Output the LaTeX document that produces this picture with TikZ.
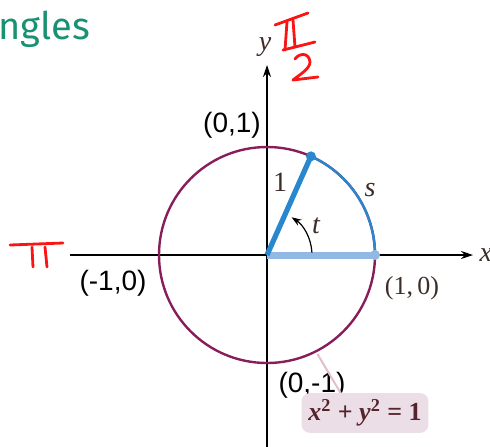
\documentclass[tikz,border=0pt]{standalone}
\usepackage{fontspec}
\setmainfont{Liberation Serif}
\setsansfont{Liberation Sans}
\newfontfamily\headfont{Fira Sans}
\usetikzlibrary{arrows.meta}

\definecolor{circlepurple}{RGB}{135,30,90}
\definecolor{arcblue}{RGB}{40,135,205}
\definecolor{segblue}{RGB}{145,185,228}
\definecolor{penred}{RGB}{250,20,20}
\definecolor{boxpink}{RGB}{236,222,230}
\definecolor{headteal}{RGB}{25,145,115}
\definecolor{labelink}{RGB}{60,45,40}

\begin{document}
\begin{tikzpicture}[x=0.5pt,y=0.5pt,line width=0.6pt,
  axis/.style={-{Stealth[length=6pt,width=4pt]}},
  coordlabel/.style={font=\sffamily\fontsize{14}{16}\selectfont,inner sep=0pt},
  mathlabel/.style={font=\fontsize{14}{16}\selectfont\itshape,text=labelink,inner sep=0pt},
  pen/.style={penred,line width=1.4pt,line cap=round,line join=round}]
  \useasboundingbox (-267,-191) rectangle (223,255);
  \coordinate (O) at (0,0);
  \coordinate (P) at (66:108);
  \coordinate (E) at (108,0);
  \node[font=\headfont\fontsize{19}{22}\selectfont,text=headteal,anchor=west,inner sep=0pt] (title) at (-269,226) {ngles};
  % axes
  \coordinate (xs) at (-197,0); \coordinate (xe) at (206,0);
  \coordinate (ys) at (0,-195); \coordinate (ye) at (0,190);
  \draw[axis] (xs) -- (xe);
  \draw[axis] (ys) -- (ye);
  \node[mathlabel,anchor=west] (xlab) at (212,0) {x};
  \node[mathlabel] (ylab) at (-2,208) {y};
  % circle, arc and radius
  \draw[circlepurple,line width=1.2pt] (O) circle (108);
  \draw[arcblue,line width=1.2pt] (E) arc (0:66:108);
  \draw[segblue,line width=3.5pt] (O) -- (E);
  \fill[segblue] (E) circle (5);
  \draw[arcblue,line width=2.6pt] (O) -- (P);
  \fill[arcblue] (P) circle (5);
  \coordinate (ts) at (3:45);
  \draw[-{Stealth[length=5pt,width=3.5pt]}] (ts) arc (3:57:45);
  \node[font=\fontsize{14}{16}\selectfont,text=labelink,inner sep=0pt] (one) at (13,73) {1};
  \node[mathlabel] (slab) at (103,65) {s};
  \node[mathlabel] (tlab) at (49,29) {t};
  % point labels
  \node[coordlabel] (top) at (-35,130) {(0,1)};
  \node[coordlabel] (left) at (-154,-28) {(-1,0)};
  \node[coordlabel] (bottom) at (45,-130) {(0,-1)};
  \node[font=\fontsize{13}{15}\selectfont,text=labelink,inner sep=0pt] (right) at (145,-33) {(1,\,0)};
  % equation callout
  \coordinate (ptr) at (-63:111);
  \coordinate (ptrend) at (76,-142);
  \draw[boxpink!85!purple,line width=1pt] (ptr) -- (ptrend);
  \node[fill=boxpink,rounded corners=4pt,minimum width=60pt,minimum height=18.5pt,
    font=\bfseries\fontsize{13}{15}\selectfont,text=labelink!80!purple] (eq) at (98,-158)
    {\textit{x}\textsuperscript{2} + \textit{y}\textsuperscript{2} = 1};
  % handwritten marks
  \draw[pen] (8,230) -- (41,242);
  \draw[pen] (20,233) -- (18,205);
  \draw[pen] (26,235) -- (28,208);
  \draw[pen] (16,205) -- (48,213);
  \draw[pen] (28,196) .. controls (32,202) and (42,203) .. (43,193)
    .. controls (43,186) and (32,180) .. (26,175) -- (51,178);
  \draw[pen] (-257,10) -- (-204,12);
  \draw[pen] (-235,8) -- (-234,-12);
  \draw[pen] (-222,8) -- (-220,-12);
\end{tikzpicture}
\end{document}
